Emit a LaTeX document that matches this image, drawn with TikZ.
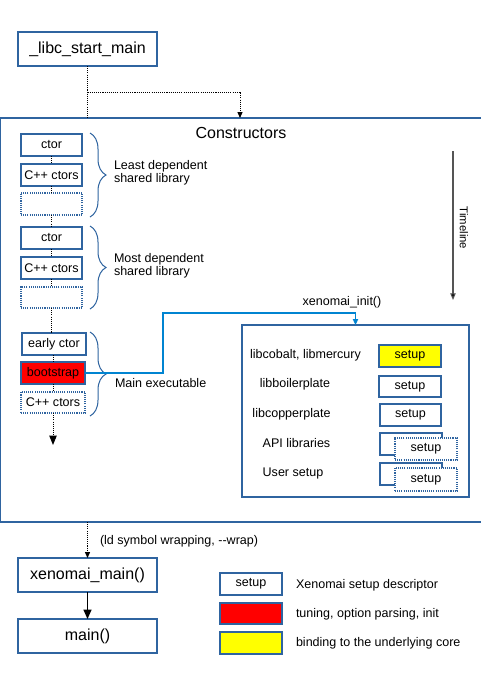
\documentclass[tikz,border=0pt]{standalone}
\usepackage{fontspec}
\setmainfont{Liberation Sans}
\usetikzlibrary{arrows.meta,decorations.pathreplacing}
\definecolor{boxblue}{HTML}{2F64A0}
\definecolor{connblue}{HTML}{0084D1}
\definecolor{tlgray}{HTML}{555555}
\definecolor{tred}{HTML}{FF0000}
\definecolor{tyellow}{HTML}{FFFF00}
\tikzset{
  x=0.75pt, y=-0.75pt,
  every node/.style={inner sep=0pt, outer sep=0pt},
  bigtxt/.style={font=\fontsize{12}{14}\selectfont},
  smalltxt/.style={font=\fontsize{9.4}{9.75}\selectfont},
  bx/.style={draw=boxblue, line width=0.8pt, rectangle, fill=white},
  bigbox/.style={bx, minimum width=139*0.75pt, minimum height=34*0.75pt, bigtxt},
  colbox/.style={bx, minimum width=61*0.75pt, minimum height=22*0.75pt, smalltxt},
  dotbox/.style={bx, dash pattern=on 0.8pt off 0.8pt},
  setupbox/.style={bx, minimum width=62*0.75pt, minimum height=22*0.75pt, smalltxt},
  dotc/.style={draw=black, line width=0.75pt, dash pattern=on 0.8pt off 0.8pt},
  smallhead/.style={-{Triangle[length=4.5pt,width=3.8pt]}},
  bracestyle/.style={draw=boxblue, line width=0.75pt, decorate, decoration={brace, amplitude=12pt}},
}
\begin{document}
\begin{tikzpicture}
\useasboundingbox (0,0) rectangle (480,679);
\fill[white] (0,0) rectangle (480,679);

% big constructors box
\node[bx, minimum width=482*0.75pt, minimum height=404*0.75pt] (cons) at (241.6,320) {};
\node[bigtxt] (constitle) at (241,133) {Constructors};

% top
\node[bigbox] (libc) at (87.5,49) {\_libc\_start\_main};
\coordinate (br) at (87.5,92);
\coordinate (tgt) at (240,118);
\draw[dotc] (libc.south) -- (libc.south |- cons.north);
\draw[dotc, smallhead] (br) -| (tgt);

% left column
\node[colbox] (c1) at (51.5,145) {ctor};
\node[colbox] (c2) at (51.5,175) {C++ ctors};
\node[colbox, dotbox] (c3) at (51.5,204) {};
\node[colbox] (c4) at (51.5,238) {ctor};
\node[colbox] (c5) at (51.5,268) {C++ ctors};
\node[colbox, dotbox, minimum height=21*0.75pt] (c6) at (51.5,297.5) {};
\node[colbox, minimum width=64*0.75pt] (e1) at (54,344) {early ctor};
\node[colbox, minimum width=64*0.75pt, fill=tred, line width=1.3pt] (e2) at (53,373) {bootstrap};
\node[colbox, dotbox, minimum width=64*0.75pt, minimum height=21*0.75pt] (e3) at (53,402.5) {C++ ctors};
\coordinate (eend) at (53,445);

\draw[dotc] (c1.south) -- (c2.north);
\draw[dotc] (c2.south) -- (c3.north);
\draw[dotc] (c3.south) -- (c4.north);
\draw[dotc] (c4.south) -- (c5.north);
\draw[dotc] (c5.south) -- (c6.north);
\draw[dotc] (c6.south) -- (c6.south |- e1.north);
\draw[dotc] (e1.south -| e2.north) -- (e2.north);
\draw[dotc] (e2.south) -- (e3.north);
\draw[dotc, -{Triangle[length=7pt,width=5.5pt]}] (e3.south) -- (eend);

% braces
\coordinate (b1a) at (90,133); \coordinate (b1b) at (90,217);
\coordinate (b2a) at (90,226); \coordinate (b2b) at (90,309);
\coordinate (b3a) at (90,332); \coordinate (b3b) at (90,416);
\draw[bracestyle] (b1a) -- (b1b);
\draw[bracestyle] (b2a) -- (b2b);
\draw[bracestyle] (b3a) -- (b3b);
\node[smalltxt, anchor=west, align=left] (l1) at (114,172.5) {Least dependent\\shared library};
\node[smalltxt, anchor=west, align=left] (l2) at (114,265.5) {Most dependent\\shared library};
\node[smalltxt, anchor=west] (l3) at (115,383) {Main executable};

% inner box
\node[bx, minimum width=227*0.75pt, minimum height=172*0.75pt] (inner) at (355.5,411) {};
\coordinate (k1) at (163,313);
\coordinate (k2) at (355.5,313);
\draw[connblue, line width=0.8pt, -{Triangle[length=4.5pt,width=4pt]}] (e2.east) -| (k1) -- (k2) -- (inner.north);
\node[smalltxt] (xinit) at (342,302) {xenomai\_init()};

\node[smalltxt] (t1) at (305.5,355) {libcobalt, libmercury};
\node[smalltxt] (t2) at (295,384) {libboilerplate};
\node[smalltxt] (t3) at (291.5,414) {libcopperplate};
\node[smalltxt] (t4) at (296.5,443) {API libraries};
\node[smalltxt] (t5) at (293,473) {User setup};

\node[setupbox, fill=tyellow] (s1) at (410,356) {setup};
\node[setupbox, minimum height=21*0.75pt] (s2) at (410,386.5) {setup};
\node[setupbox, minimum width=61*0.75pt] (s3) at (410.5,415) {setup};
\node[setupbox] (s4b) at (411,444) {};
\node[setupbox, dotbox] (s4) at (426,449) {setup};
\node[setupbox] (s5b) at (411,474) {};
\node[setupbox, dotbox, minimum height=23*0.75pt] (s5) at (426,479.5) {setup};

% timeline
\coordinate (tla) at (453,151);
\coordinate (tlb) at (453,300);
\draw[tlgray, line width=0.8pt, -{Triangle[length=5pt,width=4pt, fill=black]}] (tla) -- (tlb);
\node[font=\fontsize{8.5}{10}\selectfont, rotate=-90] (tl) at (464,228) {Timeline};

% bottom
\node[bigbox] (xm) at (87.5,575) {xenomai\_main()};
\node[bigbox] (mn) at (87.5,636) {main()};
\draw[dotc, smallhead] (xm.north |- cons.south) -- (xm.north);
\node[smalltxt, anchor=west] (wrap) at (100,541) {(ld symbol wrapping, -{}-wrap)};
\draw[black, line width=0.8pt, -{Triangle[length=7pt,width=6pt]}] (xm.south) -- (mn.north);

% legend
\node[setupbox] (g1) at (251,584) {setup};
\node[setupbox, fill=tred, minimum height=21*0.75pt] (g2) at (251,613.5) {};
\node[setupbox, fill=tyellow] (g3) at (251,643) {};
\node[smalltxt, anchor=west] (gt1) at (296,585) {Xenomai setup descriptor};
\node[smalltxt, anchor=west] (gt2) at (296,614) {tuning, option parsing, init};
\node[smalltxt, anchor=west] (gt3) at (296,643) {binding to the underlying core};
\end{tikzpicture}
\end{document}
